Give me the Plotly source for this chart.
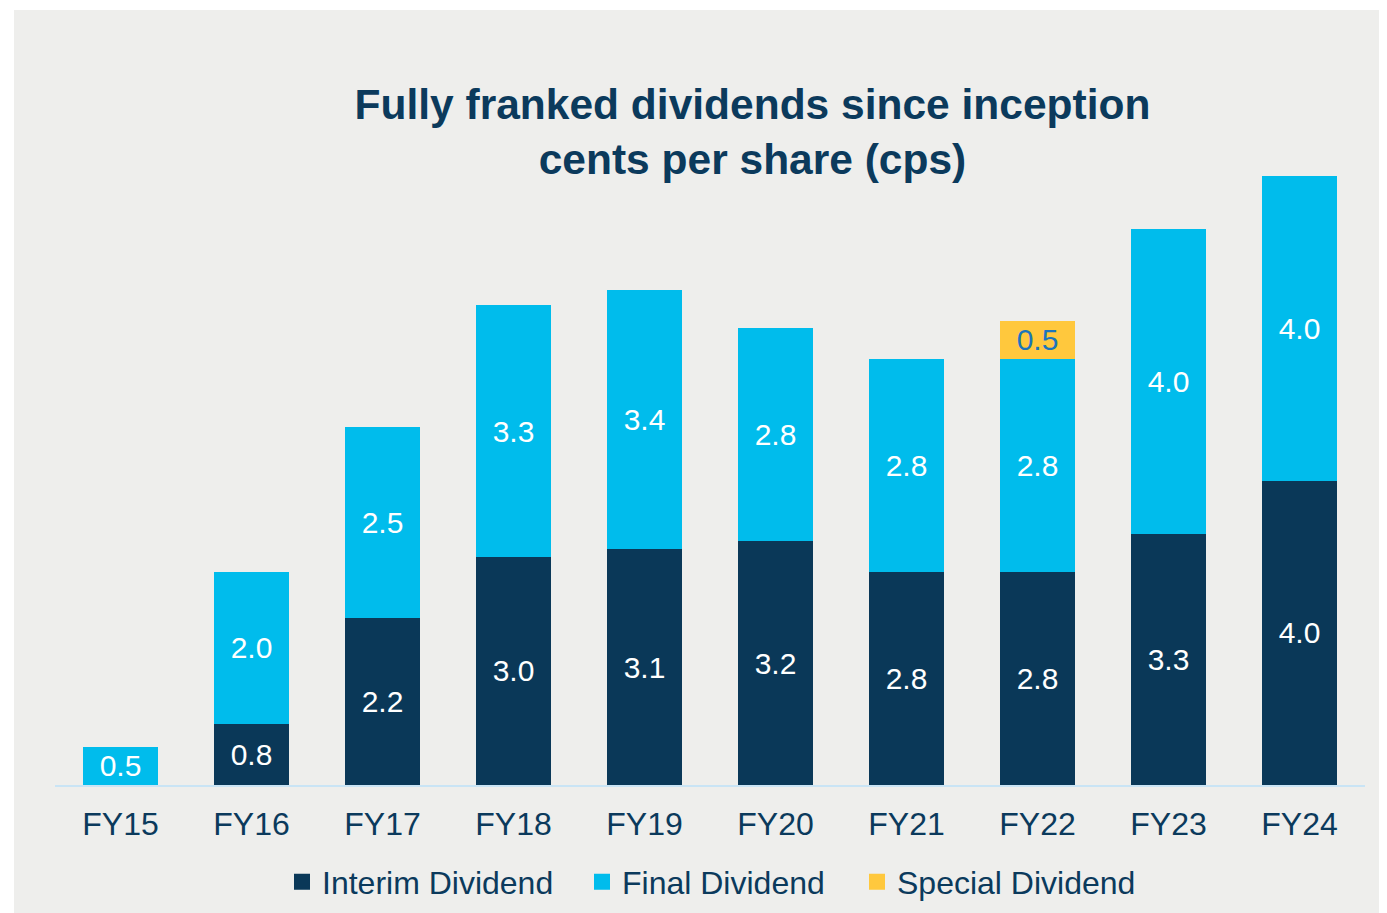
import plotly.graph_objects as go

years = ["FY15", "FY16", "FY17", "FY18", "FY19", "FY20", "FY21", "FY22", "FY23", "FY24"]
interim = [0, 0.8, 2.2, 3.0, 3.1, 3.2, 2.8, 2.8, 3.3, 4.0]
final = [0.5, 2.0, 2.5, 3.3, 3.4, 2.8, 2.8, 2.8, 4.0, 4.0]
special = [0, 0, 0, 0, 0, 0, 0, 0.5, 0, 0]
series_names = ["Interim Dividend", "Final Dividend", "Special Dividend"]

NAVY = "#0a3858"
CYAN = "#00bcec"
GOLD = "#ffc83d"
TXT = "#0b3a5c"
BG = "#eeeeec"
FONT = "Liberation Sans, Arial, sans-serif"

# page has an 8px body margin, so everything is laid out 8px up/left of the slide
W, H = 1379, 905
L, R, T, B = 47, 22, 168, 128
PW, PH = W - L - R, H - T - B


def lbl(vals):
    return [f"{v:.1f}" if v > 0 else "" for v in vals]


fig = go.Figure()
for vals, col, tcol in [(interim, NAVY, "white"), (final, CYAN, "white"), (special, GOLD, "#1b75bb")]:
    fig.add_trace(go.Bar(x=years, y=vals, marker_color=col, marker_line_width=0,
                         text=lbl(vals), textposition="inside", insidetextanchor="middle",
                         constraintext="none", showlegend=False,
                         textfont=dict(color=tcol, size=30, family=FONT)))

# legend entries (square swatches), one legend each so they can be spaced like the slide
leg_x = [274, 574, 849]
for i, (name, col) in enumerate(zip(series_names, [NAVY, CYAN, GOLD])):
    fig.add_trace(go.Scatter(x=[years[0]], y=[None], mode="markers", name=name,
                             marker=dict(symbol="square", size=16, color=col),
                             legend="legend" if i == 0 else f"legend{i + 1}"))

legend_style = dict(orientation="h", xref="container", yref="container",
                    xanchor="left", yanchor="middle", y=1 - 874 / H,
                    font=dict(size=32, color=TXT, family=FONT), bgcolor="rgba(0,0,0,0)")

# grey card behind the chart
fig.add_shape(type="rect", xref="paper", yref="paper", layer="below",
              x0=(6 - L) / PW, x1=(W + 40 - L) / PW,
              y0=-(B + 40) / PH, y1=(PH + T - 2) / PH,
              fillcolor=BG, line_width=0)

fig.update_layout(
    width=W, height=H,
    barmode="stack", bargap=0.43,
    paper_bgcolor="white", plot_bgcolor="rgba(0,0,0,0)",
    margin=dict(l=L, r=R, t=T, b=B, autoexpand=False),
    font=dict(family=FONT, color=TXT, size=32),
    title=dict(text="<b>Fully franked dividends since inception<br>cents per share (cps)</b>",
               font=dict(size=42.5, color=TXT, family=FONT),
               x=744.5 / W, xanchor="center", xref="container",
               y=1 - 111 / H, yanchor="middle", yref="container"),
    legend=dict(legend_style, x=leg_x[0] / W),
    legend2=dict(legend_style, x=leg_x[1] / W),
    legend3=dict(legend_style, x=leg_x[2] / W),
    xaxis=dict(showline=True, linecolor="#c9e4f5", linewidth=2, ticks="outside",
               ticklen=10, tickcolor="rgba(0,0,0,0)", showgrid=False,
               range=[-0.5, len(years) - 0.5],
               tickfont=dict(size=32, color=TXT)),
    yaxis=dict(visible=False, range=[0, 8.0], showgrid=False),
)

fig.write_html("out.html")
